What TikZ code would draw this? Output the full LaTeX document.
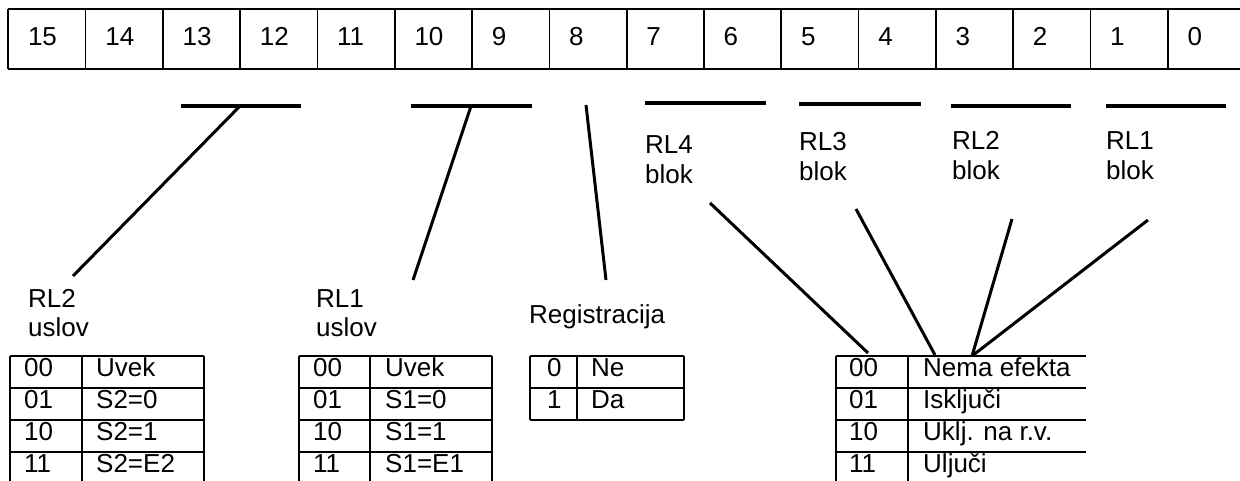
\documentclass[tikz,border=0pt]{standalone}
\usepackage{fontspec}
\setmainfont{Liberation Sans}
\begin{document}
\begin{tikzpicture}[x=1pt,y=-1pt,
  txt/.style={anchor=base west,inner sep=0pt,font=\fontsize{26}{30}\selectfont},
  frame/.style={line width=2pt},
  divider/.style={line width=1.7pt},
  tline/.style={line width=1.9pt},
  bar/.style={line width=4.3pt},
  conn/.style={line width=3pt}]
\useasboundingbox (0,0) rectangle (1240,481);
\clip (0,0) rectangle (1240,481);
\fill[white] (0,0) rectangle (1240,481);
% ---- register ----
\draw[frame] (8.3,9) -- (1250,9) (8.3,69) -- (1250,69) (8.3,9) -- (8.3,69);
\foreach \i in {1,...,15} { \draw[divider] (8.3+77.3*\i,9) -- (8.3+77.3*\i,69); }
\foreach \i [evaluate=\i as \n using int(15-\i)] in {0,...,15} {
  \node[txt] (b\n) at (8.3+77.3*\i+19.5,45.5) {\n};
}
% ---- bars ----
\draw[bar] (181,106) -- (301,106);
\draw[bar] (411,106) -- (532,106);
\draw[bar] (645,102.7) -- (766,102.7);
\draw[bar] (799,104.3) -- (921,104.3);
\draw[bar] (951,105.7) -- (1071,105.7);
\draw[bar] (1106,105.7) -- (1226,105.7);
\coordinate (barRLtwo) at (240,106);
\coordinate (barRLone) at (471,106);
\coordinate (bitreg) at (586,105);
% ---- labels ----
\node[txt] (rl2) at (28,307) {RL2};
\node[txt] (us2) at (28,336) {uslov};
\node[txt] (rl1) at (316,307) {RL1};
\node[txt] (us1) at (316,336) {uslov};
\node[txt] (reg) at (529,323) {Registracija};
\node[txt] (rl4b) at (645,153.3) {RL4};
\node[txt] (bl4) at (645,183.3) {blok};
\node[txt] (rl3b) at (799,150.7) {RL3};
\node[txt] (bl3) at (799,180.7) {blok};
\node[txt] (rl2b) at (952,150) {RL2};
\node[txt] (bl2) at (952,180) {blok};
\node[txt] (rl1b) at (1106,150) {RL1};
\node[txt] (bl1) at (1106,180) {blok};
% ---- connector end points ----
\coordinate (eRLtwo) at (73,276);
\coordinate (eRLone) at (413,280);
\coordinate (eReg) at (606,280);
\coordinate (sB4) at (710,203);
\coordinate (sB3) at (856,209);
\coordinate (sB2) at (1012,219);
\coordinate (sB1) at (1148,220);
\coordinate (tB4) at (868,353);
\coordinate (tB3) at (935,355);
\coordinate (tB21) at (972,356);
\draw[conn] (barRLtwo) -- (eRLtwo);
\draw[conn] (barRLone) -- (eRLone);
\draw[conn] (bitreg) -- (eReg);
\draw[conn] (sB4) -- (tB4);
\draw[conn] (sB3) -- (tB3);
\draw[conn] (sB2) -- (tB21);
\draw[conn] (sB1) -- (tB21);
% ---- table RL2 uslov ----
\foreach \y in {356,388,420,452} { \draw[tline] (10,\y) -- (204,\y); }
\draw[tline] (10,356) -- (10,490) (82,356) -- (82,490) (204,356) -- (204,490);
\node[txt] (t1a) at (24,376) {00};  \node[txt] (t1b) at (96,376) {Uvek};
\node[txt] (t1c) at (24,408) {01};  \node[txt] (t1d) at (96,408) {S2=0};
\node[txt] (t1e) at (24,440) {10};  \node[txt] (t1f) at (96,440) {S2=1};
\node[txt] (t1g) at (24,472) {11};  \node[txt] (t1h) at (96,472) {S2=E2};
% ---- table RL1 uslov ----
\foreach \y in {356,388,420,452} { \draw[tline] (299,\y) -- (492,\y); }
\draw[tline] (299,356) -- (299,490) (370,356) -- (370,490) (492,356) -- (492,490);
\node[txt] (t2a) at (313,376) {00};  \node[txt] (t2b) at (385,376) {Uvek};
\node[txt] (t2c) at (313,408) {01};  \node[txt] (t2d) at (385,408) {S1=0};
\node[txt] (t2e) at (313,440) {10};  \node[txt] (t2f) at (385,440) {S1=1};
\node[txt] (t2g) at (313,472) {11};  \node[txt] (t2h) at (385,472) {S1=E1};
% ---- table Registracija ----
\foreach \y in {356,388,420} { \draw[tline] (530,\y) -- (684,\y); }
\draw[tline] (530,356) -- (530,420) (577,356) -- (577,420) (684,356) -- (684,420);
\node[txt] (t3a) at (547,376) {0};  \node[txt] (t3b) at (591,376) {Ne};
\node[txt] (t3c) at (547,408) {1};  \node[txt] (t3d) at (591,408) {Da};
% ---- table blok ----
\foreach \y in {356,388,420,452} { \draw[tline] (836,\y) -- (1086,\y); }
\draw[tline] (836,356) -- (836,490) (908,356) -- (908,490);
\node[txt] (t4a) at (849,376) {00};  \node[txt] (t4b) at (923,376) {Nema efekta};
\node[txt] (t4c) at (849,408) {01};  \node[txt] (t4d) at (923,408) {Isključi};
\node[txt] (t4e) at (849,440) {10};  \node[txt] (t4f) at (923,440) {Uklj. na r.v.};
\node[txt] (t4g) at (849,472) {11};  \node[txt] (t4h) at (923,472) {Uljuči};
\end{tikzpicture}
\end{document}
